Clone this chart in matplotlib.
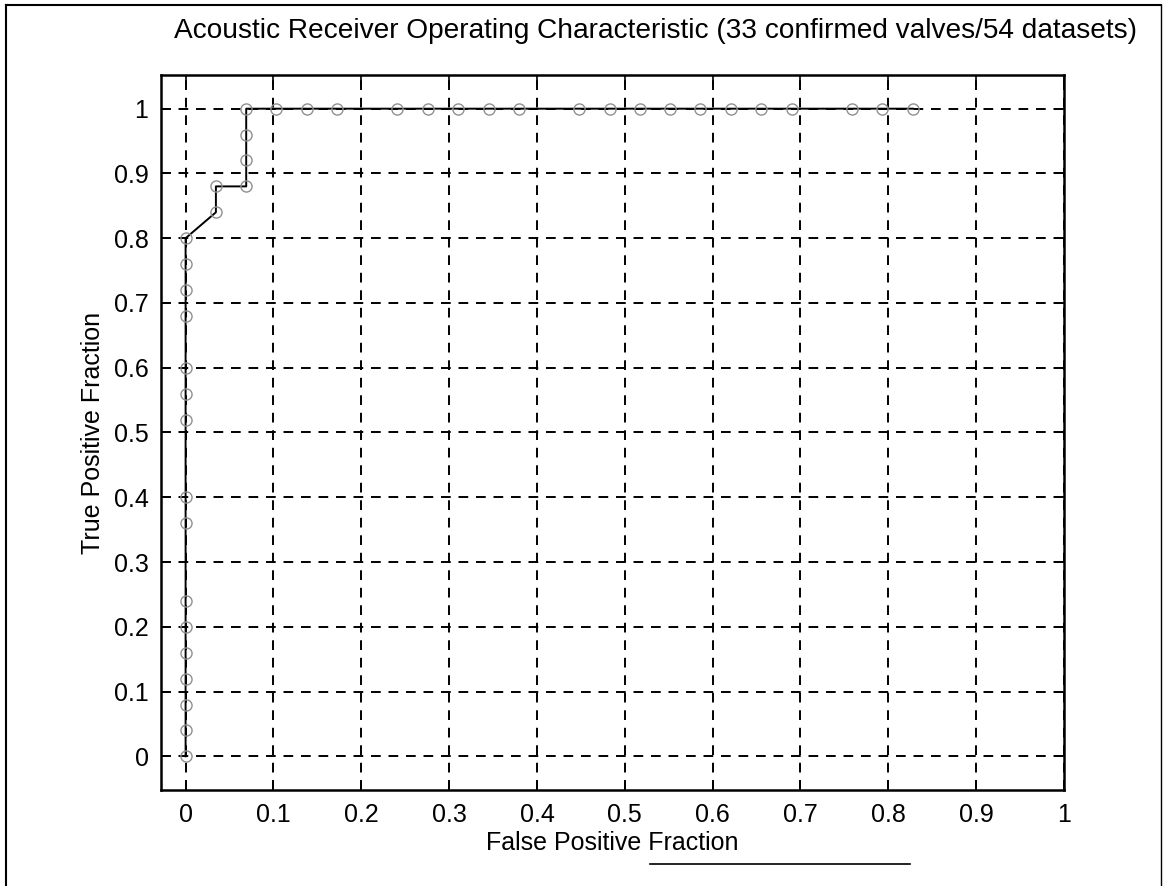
import matplotlib
matplotlib.use("Agg")
import matplotlib.pyplot as plt
from matplotlib.lines import Line2D

plt.rcParams['font.family'] = ['Liberation Sans', 'DejaVu Sans']

title = "Acoustic Receiver Operating Characteristic (33 confirmed valves/54 datasets)"
xlabel = "False Positive Fraction"
ylabel = "True Positive Fraction"

fpf = [0, 0, 0, 0, 0, 0, 0, 0, 0, 0, 0, 0, 0, 0, 0, 0,
       0.0345, 0.0345, 0.069, 0.069, 0.069, 0.069,
       0.103, 0.138, 0.172, 0.241, 0.276, 0.310, 0.345, 0.379,
       0.448, 0.483, 0.517, 0.552, 0.586, 0.621, 0.655, 0.690,
       0.759, 0.793, 0.828]
tpf = [0, 0.04, 0.08, 0.12, 0.16, 0.20, 0.24, 0.36, 0.40, 0.52, 0.56, 0.60, 0.68, 0.72, 0.76, 0.80,
       0.84, 0.88, 0.88, 0.92, 0.96, 1.0,
       1.0, 1.0, 1.0, 1.0, 1.0, 1.0, 1.0, 1.0,
       1.0, 1.0, 1.0, 1.0, 1.0, 1.0, 1.0, 1.0,
       1.0, 1.0, 1.0]

xticks = [0, 0.1, 0.2, 0.3, 0.4, 0.5, 0.6, 0.7, 0.8, 0.9, 1]
yticks = [0, 0.1, 0.2, 0.3, 0.4, 0.5, 0.6, 0.7, 0.8, 0.9, 1]
xticklabels = ["0", "0.1", "0.2", "0.3", "0.4", "0.5", "0.6", "0.7", "0.8", "0.9", "1"]
yticklabels = ["0", "0.1", "0.2", "0.3", "0.4", "0.5", "0.6", "0.7", "0.8", "0.9", "1"]

W, H = 1168, 886
fig = plt.figure(figsize=(W / 100, H / 100), dpi=100)
left, right, top, bottom = 161, 1064, 75, 790
ax = fig.add_axes([left / W, 1 - bottom / H, (right - left) / W, (bottom - top) / H])

ax.plot(fpf, tpf, color='black', lw=1.4, zorder=3)
ax.plot(fpf, tpf, linestyle='none', marker='o', markersize=8,
        markerfacecolor='none', markeredgecolor='#909090', markeredgewidth=1.0, zorder=4)

ax.set_xlim(-0.028, 1.0)
ax.set_ylim(-0.052, 1.052)
ax.set_xticks(xticks)
ax.set_xticklabels(xticklabels)
ax.set_yticks(yticks)
ax.set_yticklabels(yticklabels)
ax.tick_params(direction='in', length=7, width=1.2, top=True, right=True,
               labelsize=18, pad=9, colors='black')
ax.grid(True, color='black', linestyle=(0, (5, 4)), linewidth=1.4)
for s in ax.spines.values():
    s.set_linewidth(1.8)
    s.set_color('black')

ax.set_xlabel(xlabel, fontsize=18, labelpad=3)
ax.set_ylabel(ylabel, fontsize=18, labelpad=6)
fig.text(655 / W, 1 - 31 / H, title, fontsize=20.2, ha='center', va='center')

# scanned page frame
fig.add_artist(Line2D([6 / W, 6 / W], [0, 1 - 5 / H], color='black', lw=1.5, transform=fig.transFigure))
fig.add_artist(Line2D([6 / W, 1161 / W], [1 - 5 / H, 1 - 5 / H], color='black', lw=1.5, transform=fig.transFigure))
fig.add_artist(Line2D([1161 / W, 1161 / W], [0, 1 - 5 / H], color='black', lw=1.0, transform=fig.transFigure))
fig.add_artist(Line2D([650 / W, 910 / W], [1 - 864 / H, 1 - 864 / H], color='black', lw=1.2, transform=fig.transFigure))

fig.savefig("out.png", dpi=100)
